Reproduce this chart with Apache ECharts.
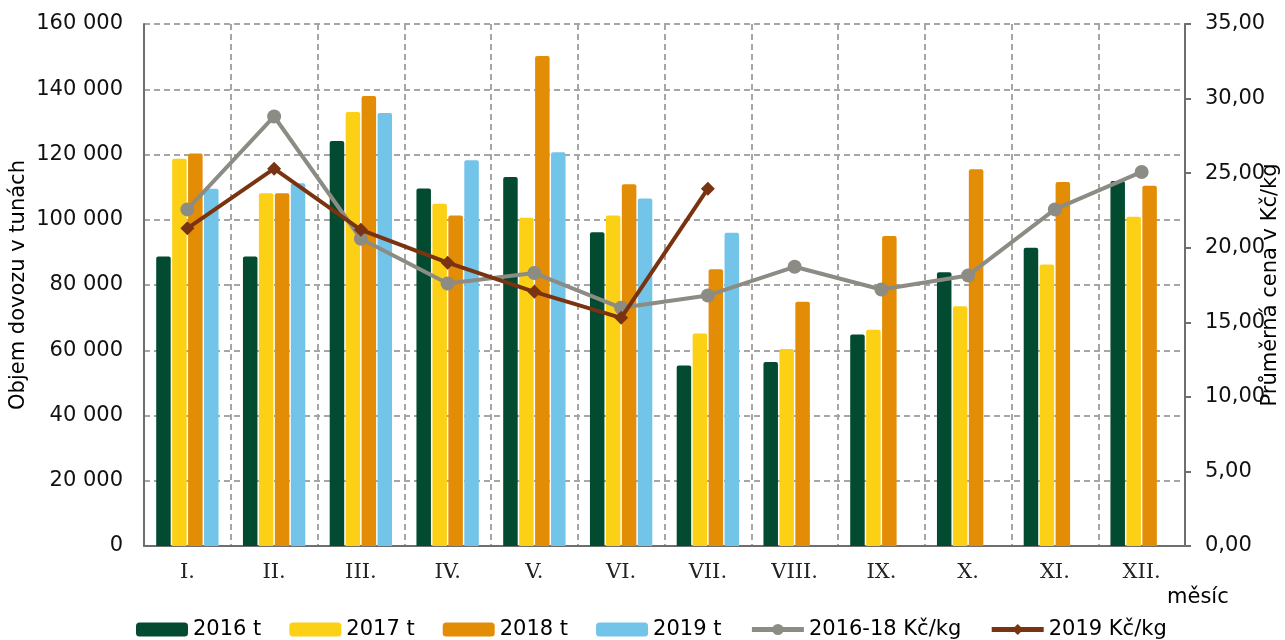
<!DOCTYPE html>
<html><head><meta charset="utf-8">
<script src="https://cdn.jsdelivr.net/npm/echarts@6/dist/echarts.min.js"></script>
<style>html,body{margin:0;padding:0;background:#fff}#c{width:1285px;height:640px}</style>
</head><body><div id="c"></div>
<script>
const months = ['I.','II.','III.','IV.','V.','VI.','VII.','VIII.','IX.','X.','XI.','XII.'];
const t2016 = [88700, 88700, 124100, 109600, 113100, 96200, 55300, 56400, 64800, 83900, 91400, 111900];
const t2017 = [118700, 108100, 133000, 104900, 100600, 101300, 65100, 60400, 66300, 73500, 86300, 100900];
const t2018 = [120300, 108100, 137900, 101300, 150200, 110900, 84800, 74900, 95000, 115500, 111600, 110400];
const t2019 = [109500, 111200, 132700, 118200, 120700, 106500, 96000, null, null, null, null, null];
const price1618 = [22.57, 28.8, 20.6, 17.6, 18.3, 15.97, 16.8, 18.72, 17.2, 18.14, 22.57, 25.08];
const price2019 = [21.3, 25.3, 21.2, 19.0, 17.04, 15.3, 23.96, null, null, null, null, null];

const chart = echarts.init(document.getElementById('c'));
const grid = '#a6a6a6';
const axisCol = '#6e6e6e';
const sans = "'DejaVu Sans',Verdana,sans-serif";
function bar(name, data, color) {
  return {name, type:'bar', data, barWidth:14.5, barGap:'10%', itemStyle:{color, borderRadius:[2,2,0,0]}};
}
chart.setOption({
  animation:false,
  grid:{left:144, right:100, top:24, bottom:94, outerBoundsMode:'none', containLabel:false},
  legend:{
    bottom:-5, left:131, itemWidth:52, itemHeight:14, itemGap:28,
    textStyle:{fontFamily:sans, fontSize:21, color:'#000'},
    data:[
      {name:'2016 t'},{name:'2017 t'},{name:'2018 t'},{name:'2019 t'},
      {name:'2016-18 Kč/kg', lineStyle:{width:5}},{name:'2019 Kč/kg', lineStyle:{width:5}}
    ]
  },
  xAxis:{
    type:'category', data:months,
    axisLine:{lineStyle:{color:axisCol, width:2}},
    axisTick:{show:false},
    axisLabel:{fontFamily:"'DejaVu Serif',serif", fontSize:21, color:'#222', margin:16},
    splitLine:{show:true, interval:0, lineStyle:{color:grid, width:2, type:[6,4]}}
  },
  yAxis:[{
    type:'value', min:0, max:160000, interval:20000,
    name:'Objem dovozu v tunách', nameLocation:'middle', nameGap:115, nameRotate:90, nameMoveOverlap:false,
    nameTextStyle:{fontFamily:sans, fontSize:21, color:'#000'},
    axisLine:{show:true, lineStyle:{color:axisCol, width:2}},
    axisTick:{show:false},
    axisLabel:{fontFamily:sans, fontSize:21, color:'#111', margin:21,
      formatter:v=>String(v).replace(/\B(?=(\d{3})+(?!\d))/g,' ')},
    splitLine:{lineStyle:{color:grid, width:2, type:[6,4]}}
  },{
    type:'value', min:0, max:35, interval:5, position:'right',
    name:'Průměrná cena v Kč/kg', nameLocation:'middle', nameGap:75, nameRotate:90, nameMoveOverlap:false,
    nameTextStyle:{fontFamily:sans, fontSize:21, color:'#000'},
    axisLine:{show:true, lineStyle:{color:axisCol, width:2}},
    axisTick:{show:true, length:6, lineStyle:{color:axisCol, width:2}},
    axisLabel:{fontFamily:sans, fontSize:21, color:'#111', margin:20,
      formatter:v=>v.toFixed(2).replace('.',',')},
    splitLine:{show:false}
  }],
  series:[
    bar('2016 t', t2016, '#034b30'),
    bar('2017 t', t2017, '#fcd015'),
    bar('2018 t', t2018, '#e38c06'),
    bar('2019 t', t2019, '#72c4e8'),
    {name:'2016-18 Kč/kg', type:'line', yAxisIndex:1, data:price1618, symbol:'circle', symbolSize:14,
      lineStyle:{color:'#8c8c84', width:4}, itemStyle:{color:'#8c8c84'}, z:5},
    {name:'2019 Kč/kg', type:'line', yAxisIndex:1, data:price2019, symbol:'diamond', symbolSize:14,
      lineStyle:{color:'#7a3310', width:4}, itemStyle:{color:'#7a3310'}, z:6}
  ],
  graphic:[{type:'text', left:1167, top:587, style:{text:'měsíc', fontFamily:sans, fontSize:21, fill:'#000'}}]
});
</script></body></html>
